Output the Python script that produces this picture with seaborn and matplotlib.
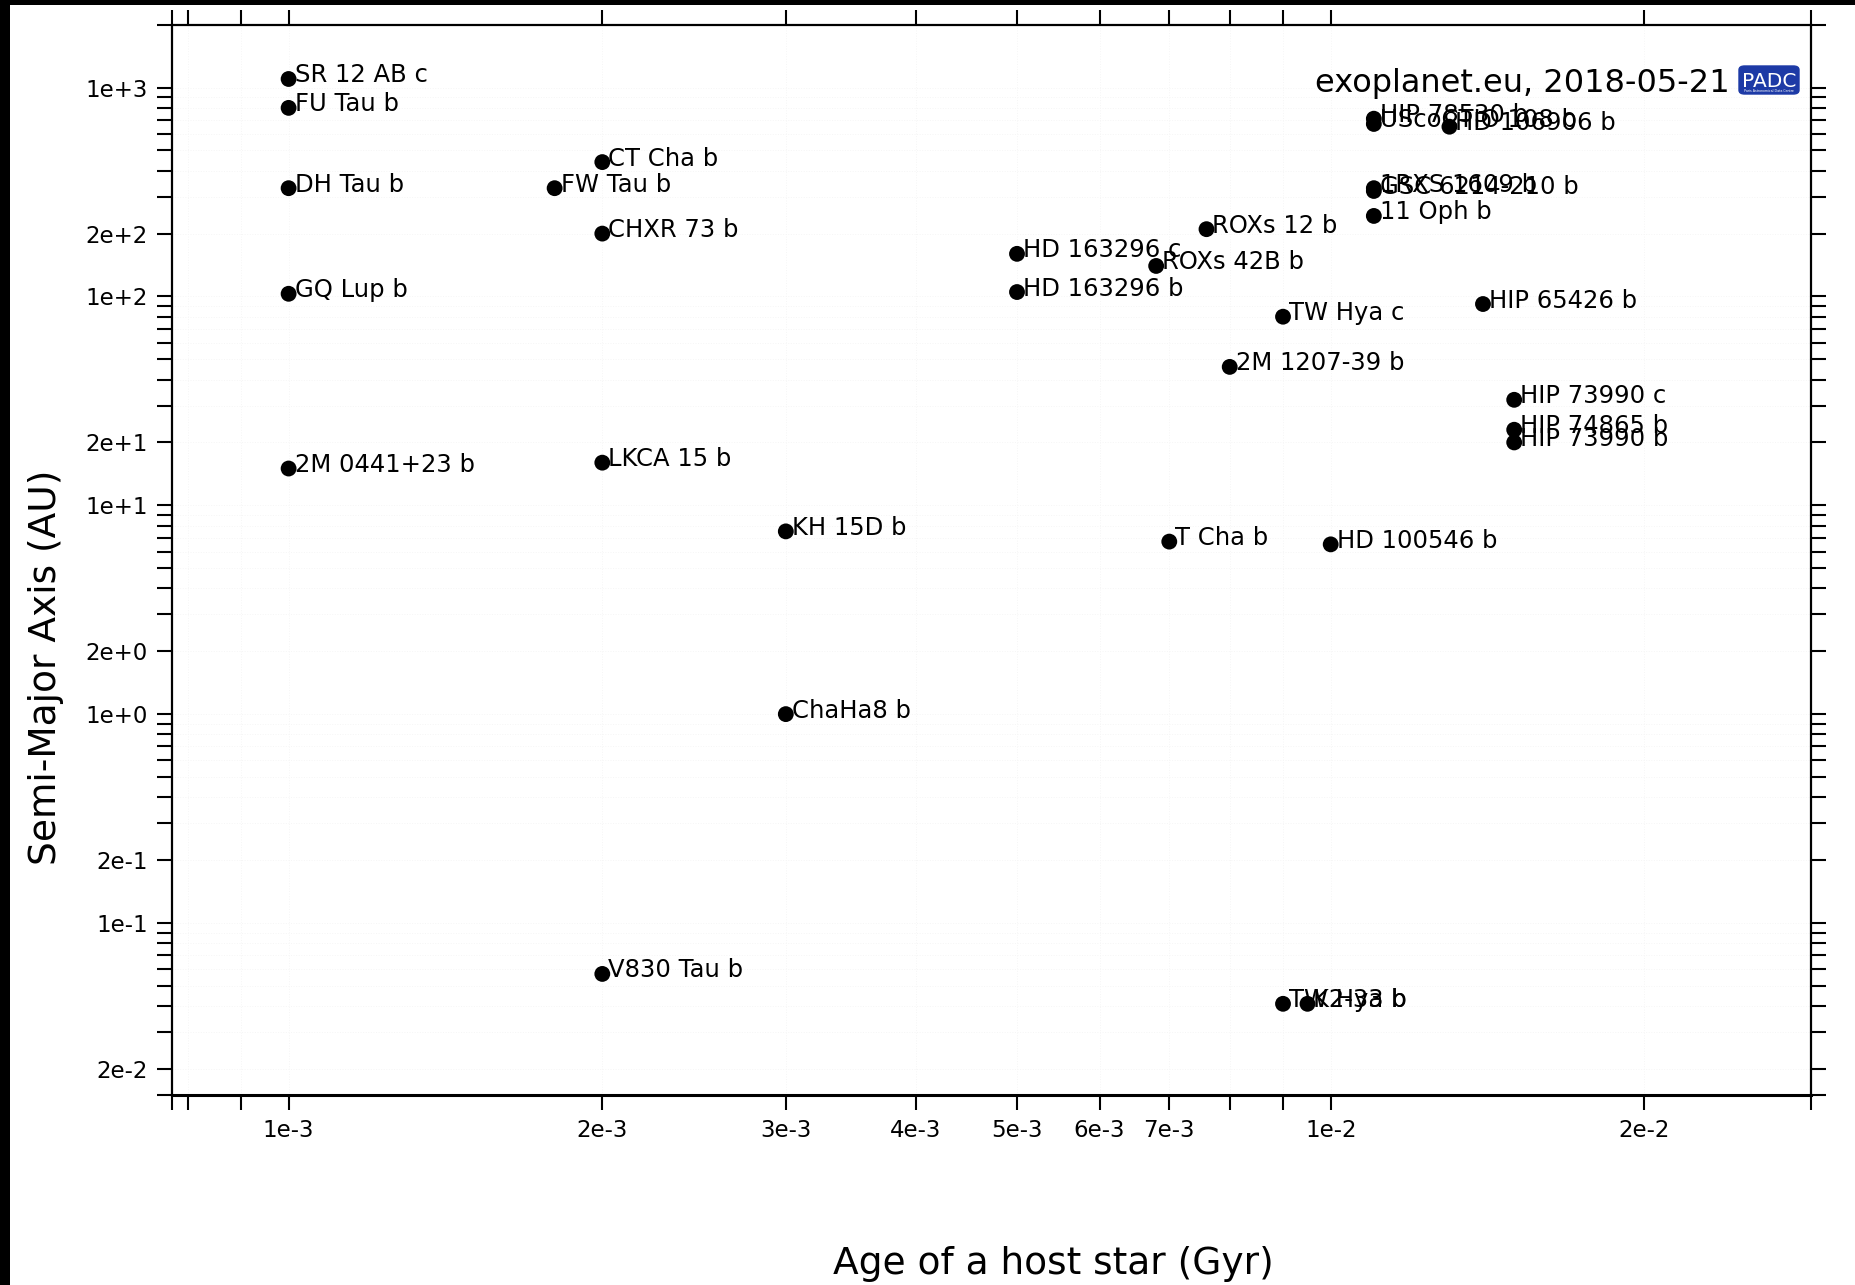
import matplotlib
matplotlib.use("Agg")
import matplotlib.pyplot as plt
from matplotlib.patches import Rectangle, FancyBboxPatch
import numpy as np
import pandas as pd
import seaborn as sns

# ---------------- data ----------------
names = ["SR 12 AB c", "FU Tau b", "DH Tau b", "GQ Lup b", "2M 0441+23 b",
         "FW Tau b", "CT Cha b", "CHXR 73 b", "LKCA 15 b", "V830 Tau b",
         "KH 15D b", "ChaHa8 b", "HD 163296 c", "HD 163296 b", "ROXs 42B b",
         "ROXs 12 b", "T Cha b", "2M 1207-39 b", "TW Hya c", "TW Hya b",
         "K2-33 b", "HD 100546 b", "HIP 78530 b", "UScoCTIO 108 b", "HD 106906 b",
         "1RXS 1609 b", "GSC 6214-210 b", "11 Oph b", "HIP 65426 b", "HIP 73990 c",
         "HIP 74865 b", "HIP 73990 b"]
age_gyr = [0.001, 0.001, 0.001, 0.001, 0.001,
           0.0018, 0.002, 0.002, 0.002, 0.002,
           0.003, 0.003, 0.005, 0.005, 0.0068,
           0.0076, 0.007, 0.008, 0.009, 0.009,
           0.0095, 0.01, 0.011, 0.011, 0.013,
           0.011, 0.011, 0.011, 0.014, 0.015,
           0.015, 0.015]
semi_major_au = [1100, 800, 330, 103, 15,
                 330, 440, 200, 16, 0.057,
                 7.5, 1.0, 160, 105, 140,
                 210, 6.7, 46, 80, 0.041,
                 0.041, 6.5, 710, 670, 650,
                 330, 320, 243, 92, 32,
                 23, 20]

x_labeled = [1e-3, 2e-3, 3e-3, 4e-3, 5e-3, 6e-3, 7e-3, 1e-2, 2e-2]
x_label_text = ["1e-3", "2e-3", "3e-3", "4e-3", "5e-3", "6e-3", "7e-3", "1e-2", "2e-2"]
x_unlabeled = [8e-4, 9e-4, 8e-3, 9e-3]
xlim = (7.72e-4, 2.89e-2)
ylim = (0.0150, 1995)

title_text = "exoplanet.eu, 2018-05-21"
xlabel_text = "Age of a host star (Gyr)"
ylabel_text = "Semi-Major Axis (AU)"

df = pd.DataFrame({"name": names, "age": age_gyr, "a": semi_major_au})

# ---------------- figure ----------------
sns.set_style("white")
plt.rcParams['font.family'] = ['DejaVu Sans']
plt.rcParams['text.color'] = 'black'
plt.rcParams['axes.labelcolor'] = 'black'

W, H = 1855, 1285
fig = plt.figure(figsize=(W / 100, H / 100), dpi=100)
fig.patch.set_facecolor("black")
fig.patches.append(Rectangle((10 / W, 0), 1 - 10 / W, 1 - 5 / H,
                             transform=fig.transFigure, facecolor="white",
                             edgecolor="none", zorder=-10))

ax = fig.add_axes([171.5 / W, 1 - 1095 / H, (1811 - 171.5) / W, (1095 - 25) / H])
ax.set_facecolor("white")
ax.set_xscale("log")
ax.set_yscale("log")

sns.scatterplot(data=df, x="age", y="a", ax=ax, color="black", s=130,
                edgecolor="none", linewidth=0, zorder=3, legend=False)

for n, xv, yv in zip(df["name"], df["age"], df["a"]):
    ax.annotate(n, (xv, yv), xytext=(6, -3.5), textcoords="offset pixels",
                ha="left", va="baseline", fontsize=17.5, color="black", zorder=4)

ax.set_xlim(*xlim)
ax.set_ylim(*ylim)

# x ticks
xt = x_unlabeled[:2] + x_labeled[:7] + x_unlabeled[2:] + x_labeled[7:] + list(xlim)
xl = ["", ""] + x_label_text[:7] + ["", ""] + x_label_text[7:] + ["", ""]
ax.set_xticks(xt)
ax.set_xticklabels(xl)

# y ticks
yt, yl = [], []
for k in range(-2, 4):
    for m in range(1, 10):
        v = m * 10.0 ** k
        if ylim[0] <= v <= ylim[1]:
            yt.append(v)
            yl.append(f"{m}e{k:+d}" if m in (1, 2) else "")
yt += list(ylim)
yl += ["", ""]
ax.set_yticks(yt)
ax.set_yticklabels(yl)
ax.minorticks_off()

ax.tick_params(axis="both", which="major", direction="out", length=11, width=1.5,
               labelsize=16.5, color="black", labelcolor="black", pad=6,
               top=True, right=True, bottom=True, left=True)

for s in ax.spines.values():
    s.set_linewidth(1.6)
    s.set_color("black")
ax.spines["bottom"].set_linewidth(2.2)

ax.grid(True, which="major", color="#f6f6f6", linewidth=0.7, linestyle=":")

ax.set_xlabel(xlabel_text, fontsize=27, color="black")
ax.xaxis.label.set_va("center")
ax.xaxis.set_label_coords(0.538, -0.158)
ax.set_ylabel(ylabel_text, fontsize=27, color="black")
ax.yaxis.label.set_va("center")
ax.yaxis.set_label_coords(-0.0765, 0.40)

# annotation text + logo
fig.text(1730 / W, 1 - 91.7 / H, title_text, ha="right", va="baseline",
         fontsize=23, color="black")
logo = FancyBboxPatch((1739 / W, 1 - 94 / H), 60 / W, 28 / H,
                      boxstyle="round,pad=0.0,rounding_size=0.003",
                      transform=fig.transFigure, facecolor="#1d3aa6",
                      edgecolor="#1d3aa6", zorder=5)
fig.patches.append(logo)
fig.text(1769 / W, 1 - 81.5 / H, "PADC", ha="center", va="center",
         fontsize=14.5, color="white", zorder=6)
fig.text(1769 / W, 1 - 91 / H, "Paris Astronomical Data Centre", ha="center",
         va="center", fontsize=2.3, color="white", zorder=6)

fig.savefig("out.png", dpi=100, facecolor=fig.get_facecolor())
